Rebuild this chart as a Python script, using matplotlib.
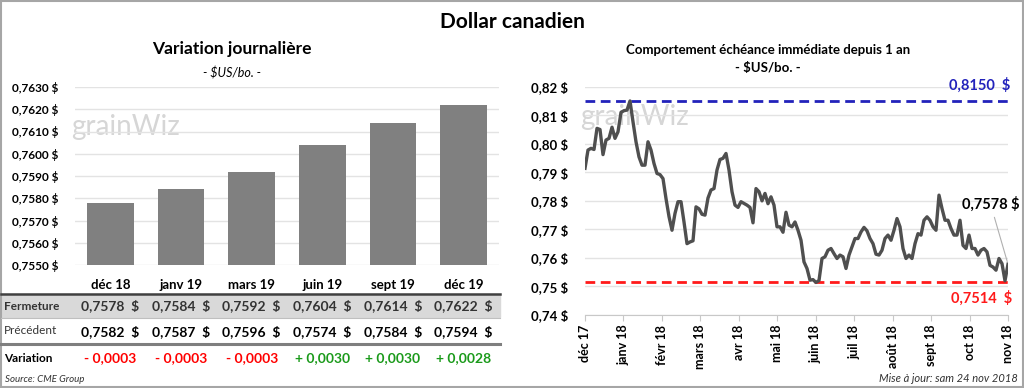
import numpy as np
import matplotlib
matplotlib.use("Agg")
import matplotlib.pyplot as plt
from matplotlib.patches import Rectangle
from matplotlib.lines import Line2D
from matplotlib.ticker import FuncFormatter
import matplotlib.transforms as mtransforms

plt.rcParams['font.family'] = ['Lato', 'DejaVu Sans']

# ---- data: left panel (daily variation) ----
contracts = ["déc 18", "janv 19", "mars 19", "juin 19", "sept 19", "déc 19"]
fermeture = [0.7578, 0.7584, 0.7592, 0.7604, 0.7614, 0.7622]
precedent = [0.7582, 0.7587, 0.7596, 0.7574, 0.7584, 0.7594]
variation = [-0.0003, -0.0003, -0.0003, 0.0030, 0.0030, 0.0028]

# ---- data: right panel (front month over one year) ----
month_labels = ["déc 17", "janv 18", "févr 18", "mars 18", "avr 18", "mai 18",
                "juin 18", "juil 18", "août 18", "sept 18", "oct 18", "nov 18"]
prices = [
    0.7914, 0.7978, 0.7984, 0.7980, 0.8054, 0.8050, 0.7962, 0.8013, 0.8019, 0.8058,
    0.8019, 0.8042, 0.8110, 0.8116, 0.8118, 0.8150, 0.8077, 0.8007, 0.7954, 0.7925,
    0.7925, 0.8007, 0.7978, 0.7931, 0.7896, 0.7892, 0.7878, 0.7808, 0.7745, 0.7697,
    0.7756, 0.7797, 0.7797, 0.7726, 0.7650, 0.7656, 0.7660, 0.7779, 0.7772, 0.7753,
    0.7750, 0.7810, 0.7838, 0.7843, 0.7908, 0.7945, 0.7949, 0.7966, 0.7908, 0.7832,
    0.7785, 0.7777, 0.7797, 0.7791, 0.7785, 0.7777, 0.7723, 0.7843, 0.7832, 0.7800,
    0.7826, 0.7790, 0.7814, 0.7785, 0.7709, 0.7709, 0.7690, 0.7760, 0.7715, 0.7709,
    0.7726, 0.7697, 0.7662, 0.7586, 0.7563, 0.7522, 0.7524, 0.7514, 0.7521, 0.7598,
    0.7604, 0.7627, 0.7633, 0.7615, 0.7598, 0.7610, 0.7604, 0.7563, 0.7610, 0.7639,
    0.7668, 0.7668, 0.7691, 0.7707, 0.7695, 0.7668, 0.7650, 0.7613, 0.7610, 0.7627,
    0.7668, 0.7680, 0.7662, 0.7697, 0.7738, 0.7709, 0.7633, 0.7598, 0.7610, 0.7598,
    0.7650, 0.7685, 0.7680, 0.7732, 0.7744, 0.7732, 0.7709, 0.7697, 0.7820, 0.7773,
    0.7732, 0.7732, 0.7703, 0.7680, 0.7680, 0.7732, 0.7644, 0.7633, 0.7680, 0.7633,
    0.7633, 0.7610, 0.7627, 0.7633, 0.7621, 0.7574, 0.7568, 0.7557, 0.7598, 0.7580,
    0.7520, 0.7578,
]
year_high = 0.8150
year_low = 0.7514


def fr(v, nd):
    return f"{v:.{nd}f}".replace(".", ",")


W, H = 1024, 388
fig = plt.figure(figsize=(W / 100, H / 100), dpi=100)


def fy(py):
    return 1 - py / H


def fx(px):
    return px / W


# outer border
fig.patches.append(Rectangle((0.001, 0.002), 0.998, 0.996, transform=fig.transFigure,
                             fill=False, edgecolor="#a6a6a6", lw=1.5))

fig.text(0.5, fy(22), "Dollar canadien", ha="center", va="center",
         fontsize=15, fontweight="bold")

# ---------------- left: bar chart ----------------
ax1 = fig.add_axes([fx(75), fy(265), fx(424), (265 - 87) / H])
xs = np.arange(len(contracts))
ax1.bar(xs, fermeture, width=0.66, color="#808080", zorder=2)
ax1.set_ylim(0.7550, 0.7630)
ax1.set_xlim(-0.5, len(contracts) - 0.5)
ax1.set_yticks(np.arange(0.7550, 0.76305, 0.0010))
ax1.yaxis.set_major_formatter(FuncFormatter(lambda v, p: fr(v, 4) + " $"))
ax1.grid(axis="y", color="#e3e3e3", lw=1, zorder=0)
for s in ax1.spines.values():
    s.set_visible(False)
ax1.tick_params(axis="y", length=0, labelsize=8.5, pad=12)
for t in ax1.get_yticklabels():
    t.set_fontweight("bold")
ax1.set_xticks(xs)
ax1.set_xticklabels(contracts, fontsize=9.5, fontweight="bold")
ax1.tick_params(axis="x", length=0, pad=10)
ax1.text(-0.008, 0.775, "grainWiz", transform=ax1.transAxes, fontsize=20,
         color="#d6d6d6", va="center", zorder=1)

fig.text(fx(232), fy(49), "Variation journalière", ha="center", va="center",
         fontsize=12.5, fontweight="bold")
fig.text(fx(232), fy(73), "- $US/bo. -", ha="center", va="center",
         fontsize=9, style="italic")

# table under bar chart
tr = mtransforms.blended_transform_factory(ax1.transData, fig.transFigure)
fig.patches.append(Rectangle((fx(1), fy(317)), fx(499), (317 - 294) / H,
                             transform=fig.transFigure, color="#d9d9d9", zorder=0))
fig.lines.append(Line2D([fx(1), fx(500)], [fy(293.5)] * 2, transform=fig.transFigure,
                        color="#404040", lw=1.8))
fig.lines.append(Line2D([fx(1), fx(500)], [fy(318)] * 2, transform=fig.transFigure,
                        color="#bfbfbf", lw=0.8))
fig.lines.append(Line2D([fx(1), fx(500)], [fy(344)] * 2, transform=fig.transFigure,
                        color="#7f7f7f", lw=2.2))

fig.text(fx(4), fy(306), "Fermeture", ha="left", va="center", fontsize=8.5,
         fontweight="bold", color="#333333")
fig.text(fx(4), fy(331), "Précédent", ha="left", va="center", fontsize=8.5,
         color="#333333")
fig.text(fx(4), fy(358), "Variation", ha="left", va="center", fontsize=8.5,
         fontweight="bold")
for i in range(len(contracts)):
    fig.text(xs[i], fy(306), fr(fermeture[i], 4) + "  $", transform=tr, ha="center",
             va="center", fontsize=10, fontweight="bold", color="#333333")
    fig.text(xs[i], fy(332), fr(precedent[i], 4) + "  $", transform=tr, ha="center",
             va="center", fontsize=10, fontweight="bold")
    v = variation[i]
    sign = "+ " if v > 0 else "- "
    fig.text(xs[i], fy(358), sign + fr(abs(v), 4), transform=tr, ha="center",
             va="center", fontsize=10, fontweight="bold",
             color="#1a9a1a" if v > 0 else "#ff0000")

fig.text(fx(5), fy(379), "Source: CME Group", ha="left", va="center",
         fontsize=7, style="italic", color="#333333")

# ---------------- right: line chart ----------------
ax2 = fig.add_axes([fx(585), fy(315), fx(423), (315 - 86.7) / H])
n = len(prices)
t = np.arange(n)
ax2.plot(t, prices, color="#4f4f4f", lw=2.4, zorder=3)
ax2.axhline(year_high, color="#2222bb", lw=2, ls=(0, (3.5, 2)), zorder=2)
ax2.axhline(year_low, color="#ff1a1a", lw=2, ls=(0, (3.5, 2)), zorder=2)
ax2.set_ylim(0.74, 0.82)
ax2.set_xlim(0, n - 1)
ax2.set_yticks(np.arange(0.74, 0.8201, 0.01))
ax2.yaxis.set_major_formatter(FuncFormatter(lambda v, p: fr(v, 2) + " $"))
ax2.grid(axis="y", color="#e3e3e3", lw=1, zorder=0)
for s in ["top", "right", "left"]:
    ax2.spines[s].set_visible(False)
ax2.spines["bottom"].set_color("#c8c8c8")
ax2.tick_params(axis="y", length=0, labelsize=9.5, pad=12)
ax2.set_xticks(np.linspace(0, n - 1, len(month_labels)))
ax2.set_xticklabels(month_labels, rotation=90, fontsize=9, fontweight="bold")
ax2.tick_params(axis="x", length=4, color="#c8c8c8", pad=3)
for tl in ax2.get_yticklabels():
    tl.set_fontweight("bold")
ax2.text(-0.012, 0.867, "grainWiz", transform=ax2.transAxes, fontsize=20,
         color="#d6d6d6", va="center", zorder=1)

ax2.annotate(fr(year_high, 4) + "  $", xy=(n - 1, year_high), xytext=(2, 6),
             textcoords="offset points", ha="right", va="bottom", fontsize=10.5,
             fontweight="bold", color="#2222bb", annotation_clip=False)
ax2.annotate(fr(year_low, 4) + "  $", xy=(n - 1, year_low), xytext=(3, -6),
             textcoords="offset points", ha="right", va="top", fontsize=10.5,
             fontweight="bold", color="#ff1a1a", annotation_clip=False)
ax2.annotate(fr(prices[-1], 4) + " $", xy=(n - 1, prices[-1]), xytext=(1.027, 0.485),
             textcoords="axes fraction", ha="right", va="center", fontsize=10.5,
             fontweight="bold", annotation_clip=False,
             arrowprops=dict(arrowstyle="-", color="#b0b0b0", lw=0.8,
                             shrinkA=2, shrinkB=2))

fig.text(fx(768), fy(50), "Comportement échéance immédiate depuis 1 an",
         ha="center", va="center", fontsize=9.5, fontweight="bold")
fig.text(fx(768), fy(68), "- $US/bo. -", ha="center", va="center",
         fontsize=9.5, fontweight="bold")
fig.text(fx(1018), fy(379), "Mise à jour: sam 24 nov 2018", ha="right",
         va="center", fontsize=8, style="italic", color="#333333")

fig.savefig("out.png", dpi=100)
